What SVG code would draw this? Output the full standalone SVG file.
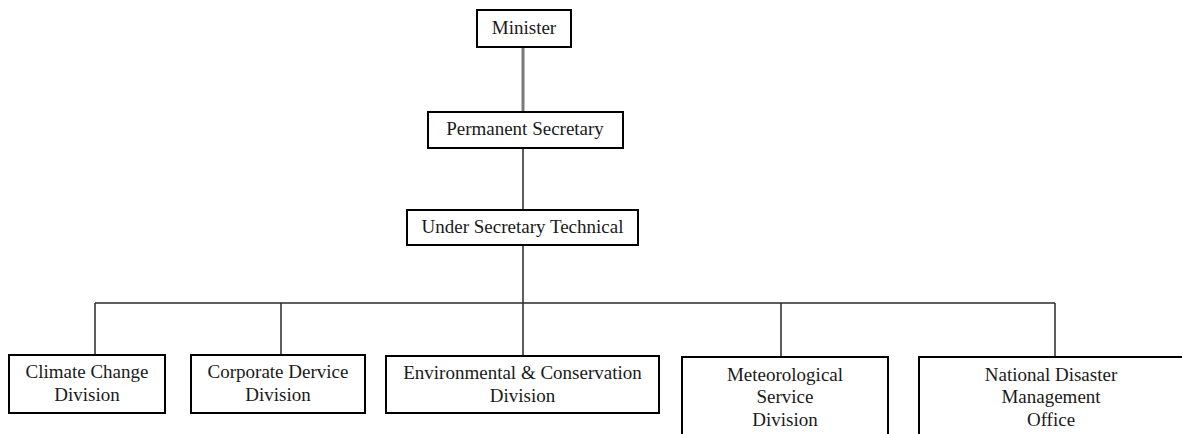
<svg xmlns="http://www.w3.org/2000/svg" width="1182" height="434" viewBox="0 0 1182 434">
  <style>
    .box { fill: #ffffff; stroke: #000000; stroke-width: 2; }
    .lbl { font-family: "Liberation Serif", "Times New Roman", serif; font-size: 19px; fill: #1a1a1a; text-anchor: middle; }
    .link { fill: none; stroke: #2a2a2a; stroke-width: 1.5; }
    .link-top { fill: none; stroke: #7a7a7a; stroke-width: 3; }
  </style>
  <rect width="1182" height="434" fill="#ffffff"/>

  <!-- connectors -->
  <g id="connectors">
    <line class="link-top" x1="523" y1="48" x2="523" y2="112"/>
    <line class="link" x1="523" y1="148" x2="523" y2="210"/>
    <line class="link" x1="523" y1="245" x2="523" y2="303"/>
    <line class="link" x1="95" y1="303" x2="1055" y2="303"/>
    <line class="link" x1="95" y1="303" x2="95" y2="355"/>
    <line class="link" x1="281" y1="303" x2="281" y2="355"/>
    <line class="link" x1="523" y1="303" x2="523" y2="356"/>
    <line class="link" x1="781" y1="303" x2="781" y2="357"/>
    <line class="link" x1="1055" y1="303" x2="1055" y2="357"/>
  </g>

  <g id="minister">
    <rect class="box" x="477" y="10" width="94" height="37"/>
    <line x1="477" y1="47" x2="571" y2="47" stroke="#000" stroke-width="2"/>
    <text class="lbl" x="524" y="34">Minister</text>
  </g>

  <g id="permanent-secretary">
    <rect class="box" x="428" y="112" width="195" height="36"/>
    <text class="lbl" x="525" y="135">Permanent Secretary</text>
  </g>

  <g id="under-secretary-technical">
    <rect class="box" x="407" y="210" width="231" height="35"/>
    <text class="lbl" x="522.5" y="233">Under Secretary Technical</text>
  </g>

  <g id="climate-change-division">
    <rect class="box" x="9" y="355" width="156" height="58"/>
    <text class="lbl" x="87" y="378">Climate Change</text>
    <text class="lbl" x="87" y="401">Division</text>
  </g>

  <g id="corporate-service-division">
    <rect class="box" x="191" y="355" width="174" height="58"/>
    <text class="lbl" x="278" y="378">Corporate Dervice</text>
    <text class="lbl" x="278" y="401">Division</text>
  </g>

  <g id="environmental-conservation-division">
    <rect class="box" x="386" y="356" width="273" height="57"/>
    <text class="lbl" x="522.5" y="379">Environmental &amp; Conservation</text>
    <text class="lbl" x="522.5" y="402">Division</text>
  </g>

  <g id="meteorological-service-division">
    <rect class="box" x="682" y="357" width="206" height="90"/>
    <text class="lbl" x="785" y="381">Meteorological</text>
    <text class="lbl" x="785" y="403">Service</text>
    <text class="lbl" x="785" y="426">Division</text>
  </g>

  <g id="national-disaster-management-office">
    <rect class="box" x="919" y="357" width="266" height="90"/>
    <text class="lbl" x="1051" y="381">National Disaster</text>
    <text class="lbl" x="1051" y="403">Management</text>
    <text class="lbl" x="1051" y="426">Office</text>
  </g>
</svg>
